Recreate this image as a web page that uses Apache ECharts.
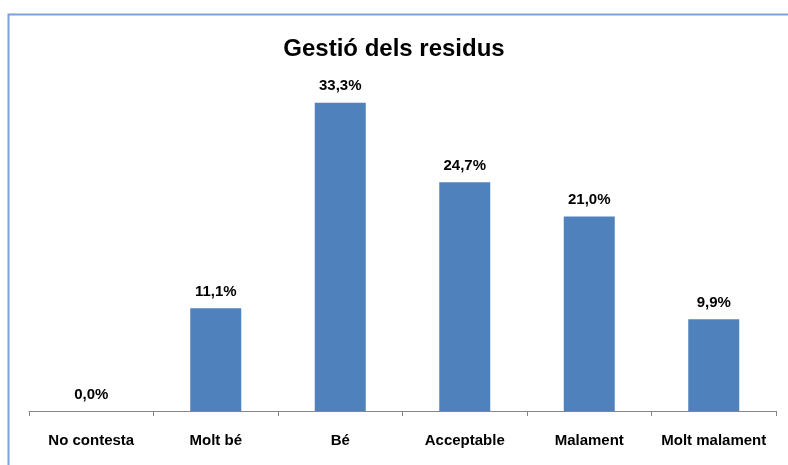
<!DOCTYPE html>
<html>
<head>
<meta charset="utf-8">
<script src="https://cdn.jsdelivr.net/npm/echarts@6/dist/echarts.min.js"></script>
<style>
  html, body { margin: 0; padding: 0; background: #fff; }
  #chart { width: 788px; height: 465px; }
</style>
</head>
<body>
<div id="chart"></div>
<script>
var categories = ['No contesta', 'Molt bé', 'Bé', 'Acceptable', 'Malament', 'Molt malament'];
var values = [0.0, 11.1, 33.3, 24.7, 21.0, 9.9];

var font = '"Liberation Sans", "Open Sans", sans-serif';

var myChart = echarts.init(document.getElementById('chart'));
myChart.setOption({
    animation: false,
    backgroundColor: '#fff',
    title: {
        text: 'Gestió dels residus',
        left: 'center',
        top: 32,
        textStyle: { fontFamily: font, fontSize: 24, fontWeight: 'bold', color: '#000' }
    },
    graphic: [{
        type: 'rect',
        shape: { x: 8.5, y: 14.5, width: 800, height: 500 },
        style: { fill: null, stroke: '#7ba2d6', lineWidth: 2 },
        silent: true
    }],
    grid: { left: 29, right: 12, top: 87, bottom: 54 },
    xAxis: {
        type: 'category',
        data: categories,
        axisLine: { lineStyle: { color: '#868686', width: 1 } },
        axisTick: { show: true, interval: 0, length: 5, lineStyle: { color: '#868686' } },
        axisLabel: { interval: 0, color: '#000', fontFamily: font, fontSize: 15, fontWeight: 'bold', margin: 22 }
    },
    yAxis: {
        type: 'value',
        min: 0,
        max: 35,
        show: false
    },
    series: [{
        type: 'bar',
        data: values,
        barWidth: 51,
        itemStyle: { color: '#4f81bd' },
        label: {
            show: true,
            position: 'top',
            distance: 9,
            color: '#000',
            fontFamily: font,
            fontSize: 15,
            fontWeight: 'bold',
            formatter: function (p) { return p.value.toFixed(1).replace('.', ',') + '%'; }
        }
    }]
});
</script>
</body>
</html>
